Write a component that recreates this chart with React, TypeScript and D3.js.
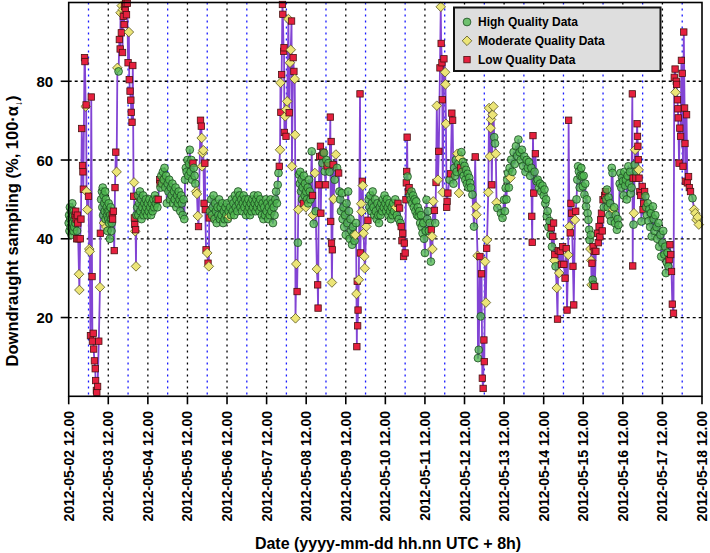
import { useEffect, useRef } from 'react'
import * as d3 from 'd3'

// [days since 2012-05-02 12:00, downdraught sampling %, quality 0 = high, 1 = moderate, 2 = low]
type Pt = [number, number, number]

const START = new Date(2012, 4, 2, 12, 0)
const END = new Date(2012, 4, 18, 12, 0)
const Y_TICKS = [20, 40, 60, 80]
const QUALITY_LABELS = ['High Quality Data', 'Moderate Quality Data', 'Low Quality Data']

const MAY02_04: Pt[] = [
  [0.00,44,0],[0.01,46,0],[0.02,42,0],[0.03,48,0],[0.04,45,0],[0.05,43,0],[0.06,47,0],[0.07,41,0],[0.08,45,0],[0.09,49,0],
  [0.10,44,0],[0.11,46,0],[0.12,42,0],[0.13,47,0],[0.14,43,0],[0.15,45,0],[0.16,46,2],[0.17,44,0],[0.18,47,2],[0.19,45,2],
  [0.20,40,2],[0.21,42,0],[0.22,46,2],[0.23,44,2],[0.24,40,2],[0.26,31,1],[0.27,27,1],[0.29,40,2],[0.31,45,2],[0.33,68,2],
  [0.35,58.6,2],[0.36,57,2],[0.37,52.6,2],[0.40,86,2],[0.41,85,2],[0.43,73.6,1],[0.44,74,2],[0.45,52,1],[0.47,47.4,1],[0.50,50.8,2],
  [0.52,37.4,1],[0.53,36.8,1],[0.55,15.4,2],[0.57,76,2],[0.59,30.4,2],[0.60,14,2],[0.62,16,2],[0.63,12,2],[0.65,9,2],[0.67,7,2],
  [0.68,4,2],[0.70,1.5,2],[0.71,1,2],[0.73,2.5,2],[0.76,14,2],[0.79,27.7,1],[0.80,41.4,2],
  [0.82,50,0],[0.84,52,0],[0.85,48,0],[0.86,53,0],[0.87,46,0],[0.88,51,0],[0.89,44,1],[0.90,49,0],[0.91,47,0],[0.92,52,0],
  [0.93,45,0],[0.94,50,0],[0.95,43,1],[0.96,48,0],[0.97,46,0],[0.98,42,0],[0.99,47,0],[1.00,45,0],[1.01,49,0],[1.02,44,0],
  [1.03,47,0],[1.04,40,0],[1.05,46,0],[1.06,48,0],[1.07,45,0],[1.08,42,0],[1.09,44,0],[1.10,46,2],[1.11,45,2],[1.13,47,2],
  [1.15,37,2],[1.17,53,2],[1.19,62,2],[1.21,57,1],[1.23,83.4,1],
  [1.26,82.5,0],[1.28,90.6,2],[1.30,88.2,2],[1.31,97.4,1],[1.33,92.3,2],[1.34,99.2,1],[1.36,87.3,2],[1.37,98.2,1],[1.38,96.5,2],
  [1.40,94.4,2],[1.41,99,2],[1.43,98,2],[1.44,99.8,2],[1.46,96.9,2],[1.48,99.8,2],[1.50,84.7,2],[1.52,92.5,1],[1.53,80.4,2],
  [1.55,77.5,2],[1.57,75.2,2],[1.58,72.1,2],[1.60,69.6,2],[1.62,84,2],[1.64,50.8,2],
  [1.65,54.3,1],[1.66,45.3,2],[1.67,43.6,2],[1.68,41.9,1],[1.69,42.3,2],[1.70,33,1],[1.71,46,0],
  [1.73,48,0],[1.75,51,0],[1.76,46,0],[1.78,49,0],[1.80,52,0],[1.81,47,0],[1.83,50,0],[1.84,45,0],[1.86,48,0],[1.88,51,0],
  [1.89,46,0],[1.91,49,0],[1.93,47,0],[1.95,50,0],[1.96,48,0],[1.98,46,0],[2.00,49,0],[2.02,47,0],[2.04,50,0],[2.06,48,0],
  [2.08,46,0],[2.10,49,0],[2.12,47,0],[2.14,50,0],[2.16,48,0],[2.18,51,0],[2.20,49,0],[2.22,50,0],[2.24,48,0],[2.26,50,2],
]

const MAY04_07: Pt[] = [
  [2.30,55,2],[2.31,54,2],[2.32,53,0],[2.34,56,0],[2.36,54,0],[2.38,57,0],[2.40,55,0],[2.42,58,0],[2.44,53,0],[2.46,56,0],
  [2.48,49,0],[2.50,54,0],[2.52,52,0],[2.54,55,0],[2.56,50,0],[2.58,53,0],[2.60,51,0],[2.62,54,0],[2.64,49,0],[2.66,52,0],
  [2.68,50,0],[2.70,53,0],[2.72,48,0],[2.74,51,0],[2.76,49,0],[2.78,52,0],[2.80,50,0],[2.82,47,0],[2.84,51,0],[2.86,49,0],
  [2.88,46,0],[2.90,50,0],[2.92,45,0],[2.94,55,0],[2.96,58,0],[2.98,57,0],[3.00,60,0],[3.02,56,0],[3.04,59,0],[3.06,62.6,0],
  [3.08,57,0],[3.10,60,0],[3.12,55,0],[3.14,59.2,2],[3.16,58,0],[3.18,56,0],[3.20,54,0],[3.22,52,1],
  [3.24,51.4,1],[3.26,45.8,1],[3.28,43.1,2],[3.33,70.1,2],[3.35,68.6,2],[3.36,65.6,1],[3.37,58.4,1],[3.38,61.8,1],[3.40,62.5,1],
  [3.42,49,2],[3.44,59.2,2],[3.45,47.4,2],[3.47,37.2,2],[3.50,36.4,1],[3.52,33.8,2],[3.54,33,1],[3.55,45.3,2],[3.57,47,0],
  [3.60,50,0],[3.62,46,0],[3.64,48,0],[3.66,51,0],[3.68,45,0],[3.70,49,0],[3.72,47,0],[3.74,44,0],[3.76,48,0],[3.78,46,0],
  [3.80,50,0],[3.82,45,0],[3.84,48,0],[3.86,46,0],[3.88,49,0],[3.90,44,0],[3.92,47,0],[3.94,45,0],[3.96,48,0],[3.98,46,0],
  [4.00,49,0],[4.02,45,0],[4.04,47,0],[4.06,45.7,1],[4.08,48,0],[4.10,46,0],[4.12,50,0],[4.14,47,0],[4.16,49,0],[4.18,46,0],
  [4.20,51,0],[4.22,48,0],[4.24,50,0],[4.26,47,0],[4.28,52,0],[4.30,49,0],[4.32,51,0],[4.34,48,0],[4.36,50,0],[4.38,47,0],
  [4.40,49,0],[4.42,51,0],[4.44,48,0],[4.46,50,0],[4.48,46,0],[4.50,49,0],[4.52,47,0],[4.54,50,0],[4.56,48,0],[4.58,46,0],
  [4.60,49,0],[4.62,47,0],[4.64,50,0],[4.66,48,0],[4.68,51,0],[4.70,49,0],[4.72,47,0],[4.74,50,0],[4.76,48,0],[4.78,51,0],
  [4.80,49,0],[4.82,47,0],[4.84,50,0],[4.86,48,0],[4.88,46,0],[4.90,49,0],[4.92,45,0],[4.94,48,0],[4.96,46,0],[4.98,50,0],
  [5.00,47,0],[5.02,49,0],[5.04,45,0],[5.06,48,0],[5.08,46,0],[5.10,50,0],[5.12,47,0],[5.14,49,0],[5.16,44,0],[5.18,48,0],
  [5.20,46,0],[5.22,50,0],[5.24,52,0],[5.26,49,0],
]

const MAY07_10: Pt[] = [
  [5.28,53.7,0],[5.30,56.7,0],[5.32,58.4,2],[5.34,62.6,1],[5.35,79.6,1],[5.36,72.1,2],[5.38,81.7,2],[5.40,99.5,2],[5.41,97,2],
  [5.43,87.6,2],[5.44,88.5,2],[5.45,67,2],[5.47,71.1,1],[5.49,66,2],[5.50,72.8,1],[5.52,74.9,1],[5.55,95.8,1],[5.57,72,2],
  [5.59,84.7,1],[5.61,88,1],[5.63,95.3,2],[5.64,58.4,1],[5.67,86,2],[5.69,82.5,2],[5.71,80.6,1],[5.72,66.4,1],[5.73,19.8,1],
  [5.75,33.6,1],[5.77,26.6,2],[5.79,39,0],[5.80,47.4,1],[5.82,56.3,0],
  [5.84,54,0],[5.85,57,0],[5.87,52,0],[5.88,55,0],[5.90,50,0],[5.91,53,0],[5.93,49,2],[5.94,56,0],[5.96,51,0],[5.97,54,0],
  [5.99,48,1],[6.00,52,0],[6.02,50,0],[6.04,53,0],[6.05,49,0],[6.07,55,0],[6.09,52,0],[6.11,50,0],[6.14,62.2,0],[6.16,51,2],
  [6.17,46,1],[6.19,43.8,0],[6.22,56.7,1],[6.24,47,0],[6.27,32.3,1],[6.29,28.3,2],[6.30,22.4,2],
  [6.32,53.7,2],[6.34,60.9,2],[6.36,63.5,2],[6.37,46.5,2],[6.39,61,2],[6.41,59.2,0],[6.43,62,2],[6.45,61.8,0],[6.47,57.1,0],
  [6.49,53.7,2],[6.51,60,0],[6.53,58.5,2],[6.56,59.2,0],[6.59,57,0],[6.61,70.9,2],[6.62,44.4,2],[6.63,64.7,2],[6.64,38.9,2],
  [6.65,28.9,1],[6.66,37.2,2],[6.68,58.8,2],[6.69,50.1,1],[6.72,55,0],[6.75,61.4,1],[6.78,58,0],[6.82,56.7,2],[6.84,52,0],
  [6.86,50,0],[6.88,47,0],[6.90,51.6,0],[6.92,45,0],[6.94,48,0],[6.96,43,0],[6.98,46,0],[7.00,41,0],[7.02,49,0],[7.04,44,0],
  [7.06,52,0],[7.08,47,0],[7.10,40,0],[7.12,45,0],[7.14,42,0],[7.16,38.5,0],[7.18,43,0],[7.20,41,0],[7.22,39.5,0],[7.24,41,1],
  [7.26,44,0],[7.27,26,1],[7.28,12.6,2],[7.29,29.2,2],[7.30,17.9,2],[7.31,21.9,2],[7.33,29.6,1],[7.36,76.8,2],[7.37,36.4,2],
  [7.39,48.9,1],[7.40,46.9,1],[7.42,54.6,2],[7.43,53.5,1],[7.45,41.4,1],[7.47,35.5,1],[7.48,32.5,1],[7.52,43.1,1],[7.56,44.7,2],
  [7.58,50,0],[7.60,48,0],[7.62,51,0],[7.64,47,0],[7.66,49,0],[7.68,52,0],[7.70,48,0],[7.72,46,0],[7.74,50,0],[7.76,47,0],
  [7.78,45,0],[7.80,49,0],[7.82,46,0],[7.84,44,0],[7.86,48,0],[7.88,46,0],[7.90,49,0],[7.92,47,0],[7.94,50,0],[7.96,48,0],
  [7.98,51,0],[8.00,49,0],[8.02,47,0],[8.04,50,0],[8.06,48,0],[8.08,46,0],[8.10,49,0],[8.12,47,0],[8.14,45,0],[8.16,48,0],
  [8.18,46,0],[8.20,49,0],[8.22,47,0],[8.25,50,0],[8.27,48,1],[8.29,46,0],[8.32,49,2],[8.34,45,0],[8.36,47.8,2],[8.38,44,0],
  [8.40,43.1,2],[8.42,39.5,2],[8.44,41.4,2],[8.46,35.5,2],[8.48,38.9,2],[8.50,36.4,2],
  [8.52,49.9,2],[8.53,54.2,2],[8.54,57.1,2],[8.55,65.8,2],[8.56,55.8,0],[8.58,52,2],[8.60,53,2],[8.62,51,0],
]

const MAY10_12: Pt[] = [
  [8.64,50,0],[8.66,52,0],[8.68,49,0],[8.70,51,0],[8.72,48,0],[8.74,50,0],[8.76,47,0],[8.78,49.5,0],[8.80,46,0],[8.82,48,0],
  [8.84,45.7,0],[8.86,47,0],[8.88,44,0],[8.90,46,0],[8.92,43,0],[8.94,41.4,0],[8.96,44,0],[8.98,40,0],[9.00,36.4,0],[9.02,42,0],
  [9.04,49.9,0],[9.06,45,0],[9.08,47,0],[9.10,42,0],[9.12,44,0],[9.15,34.2,0],[9.16,42.3,2],[9.18,40.6,1],[9.19,37.4,1],
  [9.21,49.5,1],[9.24,47.2,2],[9.26,44,0],
  [9.28,54.3,2],[9.30,73.8,1],[9.33,55,1],[9.35,62.2,2],[9.38,83.4,2],[9.40,98.9,1],[9.41,89.6,2],[9.43,84.7,2],[9.44,75.3,2],
  [9.45,51.8,1],[9.48,85.7,2],[9.51,82.3,1],[9.52,79.2,1],[9.53,69.2,1],[9.55,48,2],[9.56,49.5,2],[9.58,51.6,2],[9.62,55,0],
  [9.65,56.5,2],[9.68,71.9,2],[9.70,70.1,2],[9.72,54,0],
  [9.74,58,0],[9.76,56,0],[9.78,60,0],[9.80,57,0],[9.82,61.6,1],[9.84,59,0],[9.86,51.6,1],[9.88,60.5,1],[9.90,58,2],[9.92,62,0],
  [9.94,57,0],[9.96,59.5,0],[9.98,56,0],[10.00,58.5,0],[10.02,55,0],[10.04,57.5,0],[10.06,54,0],[10.08,56.5,0],[10.10,53,0],
  [10.12,55.5,0],[10.14,54.2,0],[10.16,53,0],[10.20,51.2,0],[10.24,43.1,0],[10.27,60.8,2],[10.29,48.2,1],[10.30,46.1,1],
  [10.33,35.7,1],[10.34,9.7,0],[10.36,11.8,0],[10.39,35.5,2],[10.41,20.3,0],[10.43,31.1,2],[10.45,4.6,2],[10.47,2,2],
  [10.49,14.3,2],[10.50,8.8,2],[10.52,34.2,1],[10.54,23.8,1],[10.56,37.6,2],[10.57,39.7,1],
  [10.60,51.8,1],[10.62,73.2,1],[10.64,60.9,1],[10.66,68.1,1],[10.67,70.3,1],[10.69,53.7,2],[10.71,71.5,1],[10.73,73.6,1],
  [10.75,65.8,0],[10.77,64.2,0],[10.79,61.6,1],[10.81,49.2,1],[10.83,47.8,0],
]

const MAY12_15: Pt[] = [
  [10.92,46.5,0],[10.96,45.3,0],[11.00,49.9,0],[11.02,47,0],[11.04,52.9,0],[11.06,50,0],[11.08,55,0],[11.10,56.7,0],[11.12,53,0],
  [11.14,58,0],[11.16,55.5,1],[11.18,60.1,0],[11.21,57,0],[11.24,62,0],[11.27,59,0],[11.30,63.5,0],[11.33,61,0],[11.36,65.2,0],
  [11.39,62,0],[11.42,60,0],[11.45,62.6,0],[11.48,58.5,0],[11.51,60.9,0],[11.54,57,0],[11.57,60,0],
  [11.60,58,0],[11.63,59.5,0],[11.66,56,0],[11.69,58,0],[11.70,45.7,2],[11.71,39.1,2],[11.73,66.2,2],[11.75,51.6,2],[11.77,57,0],
  [11.79,61.6,2],[11.82,54.6,0],[11.85,55,0],[11.88,53,0],[11.91,54,0],[11.94,52,0],[11.97,53.5,0],[12.00,51,0],
  [12.02,52.5,0],[12.04,49,0],[12.06,50,0],[12.08,45.7,0],[12.10,47,0],[12.12,43,0],[12.15,44.5,0],[12.17,41,0],[12.19,42.8,2],
  [12.21,38,0],[12.23,40.6,2],[12.25,44,2],[12.27,34.5,1],[12.28,36,2],[12.30,33,0],[12.33,27.5,1],[12.35,19.6,2],[12.37,37,2],
  [12.39,31.3,1],[12.42,36.8,2],[12.45,33.5,2],[12.48,38,2],[12.51,33.5,2],[12.54,30,2],[12.57,37.5,2],[12.59,21.9,2],
  [12.62,35.9,1],[12.63,70.1,2],[12.65,43.1,1],[12.67,41.5,2],[12.69,49,2],[12.71,46.5,2],[12.74,33,2],[12.76,23.2,2],
  [12.79,44.8,1],[12.81,47,2],[12.83,50,0],[12.85,55,0],[12.87,58.4,0],[12.89,57.1,0],[12.91,53,0],[12.93,56,0],
  [12.95,58,0],[12.97,55.8,0],[12.99,53.3,0],[13.01,56,0],[13.03,51.2,0],[13.05,54,0],[13.07,48.2,0],[13.09,50,0],[13.11,46.5,0],
  [13.13,44.8,0],[13.15,42.3,0],[13.16,39.7,0],[13.18,37.4,1],[13.19,41,0],[13.20,34.5,1],[13.21,28.3,1],[13.22,33.8,2],
  [13.24,29.6,0],[13.25,38,2],[13.26,28.3,0],[13.28,36.8,2],[13.29,27.9,2],[13.32,36.8,2],[13.36,41.4,2],[13.38,39,2],
  [13.40,43.1,2],[13.42,40.5,2],[13.44,44.8,2],[13.46,46.5,2],[13.48,42,2],[13.50,49.9,2],[13.52,48,0],[13.54,51,2],[13.56,52,2],
  [13.58,50,0],[13.60,52.5,0],[13.62,48,0],[13.64,50.5,0],[13.66,46,0],[13.68,49,0],[13.70,44.5,0],[13.72,58,0],[13.74,56.7,0],
  [13.76,47.4,1],[13.78,48,0],[13.80,44,0],[13.82,46,0],[13.85,42.3,0],[13.87,45,0],[13.89,43.5,0],
]

const MAY15_18: Pt[] = [
  [13.92,54,0],[13.94,56.7,0],[13.96,53,0],[13.98,55.5,0],[14.00,54.6,0],[14.02,51,0],[14.04,57,0],[14.06,53.5,0],[14.08,55,0],
  [14.10,50,0],[14.12,56,0],[14.14,58.4,0],[14.16,54,0],[14.18,57,0],[14.20,51.5,0],[14.22,53,0],
  [14.24,76.8,2],[14.25,33.1,2],[14.26,55.4,2],[14.27,43.6,0],[14.28,46.5,1],[14.30,58.8,0],[14.31,62.6,1],[14.33,55.4,2],
  [14.34,57.1,0],[14.36,69.2,2],[14.37,66,2],[14.38,63.5,2],[14.39,60.1,2],[14.40,57.5,1],[14.41,55.4,2],
  [14.43,52,2],[14.45,51,2],[14.47,44.4,0],[14.49,53.3,2],[14.51,47.4,2],[14.53,49,2],[14.55,52,2],[14.57,50.8,0],[14.59,48,0],
  [14.61,46,0],[14.63,49,0],[14.65,44.5,0],[14.67,47.5,0],[14.69,43,0],[14.71,46.5,0],[14.73,40.6,0],
  [14.76,48.2,0],[14.78,45,0],[14.80,42,0],[14.82,46,0],[14.85,43,0],[14.87,40,0],[14.90,44,0],[14.92,38,0],[14.95,41,0],
  [14.97,35.5,0],[15.00,39,0],[15.02,42,0],[15.05,36,0],[15.07,38,0],[15.09,31.3,0],[15.11,34,0],[15.13,36.5,0],[15.15,33,0],
  [15.17,34.7,2],[15.19,38.5,2],[15.21,36,2],[15.23,31.7,2],[15.25,23.4,2],[15.28,21.1,2],
  [15.30,81,2],[15.32,83.1,2],[15.33,77.2,1],[15.35,80,2],[15.36,79.2,2],[15.38,75.3,2],[15.39,73,2],[15.40,70.7,2],[15.42,59.2,2],
  [15.44,68.1,2],[15.46,66,2],[15.48,85.3,2],[15.50,82,2],[15.52,58.4,2],[15.54,92.5,2],[15.56,73.2,2],[15.57,64.2,2],
  [15.58,54.6,2],[15.61,71.5,2],[15.63,54.2,2],[15.66,55.8,2],[15.68,53,2],[15.71,52,2],
  [15.76,50.3,0],[15.80,47.4,1],[15.83,46.5,1],[15.86,44.8,1],[15.89,45.5,1],[15.92,43.6,1],
]

const FONT = '"Liberation Sans", Arial, Helvetica, sans-serif'

interface P { t: Date; v: number; q: number }

export default function App() {
  const svgRef = useRef<SVGSVGElement>(null)

  useEffect(() => {
    if (!svgRef.current) return
    const svg = d3.select(svgRef.current)
    svg.selectAll('*').remove()

    const L = 68.7, R = 702, T = 2.5, B = 396.3

    const x = d3.scaleTime().domain([START, END]).range([L, R])
    const y = d3.scaleLinear().domain([0, 100]).range([B, T])

    const points: P[] = [...MAY02_04, ...MAY04_07, ...MAY07_10, ...MAY10_12, ...MAY12_15, ...MAY15_18]
      .map(([d, v, q]) => ({ t: new Date(START.getTime() + d * 864e5), v, q }))
      .sort((a, b) => +a.t - +b.t)

    const noons = d3.timeDay.range(new Date(2012, 4, 2), new Date(2012, 4, 19)).map(d => d3.timeHour.offset(d, 12))
    const midnights = d3.timeDay.range(new Date(2012, 4, 3), END)

    // grid: blue at midnight, black at noon, dashed horizontals
    const grid = svg.append('g')
    grid.selectAll('line.mid').data(midnights).enter().append('line')
      .attr('x1', d => x(d)).attr('x2', d => x(d)).attr('y1', T).attr('y2', B)
      .attr('stroke', '#1a1aff').attr('stroke-width', 1.3).attr('stroke-dasharray', '2,4')
    grid.selectAll('line.noon').data(noons.slice(1, -1)).enter().append('line')
      .attr('x1', d => x(d)).attr('x2', d => x(d)).attr('y1', T).attr('y2', B)
      .attr('stroke', '#000').attr('stroke-width', 1.3).attr('stroke-dasharray', '2,4')
    grid.selectAll('line.h').data(Y_TICKS).enter().append('line')
      .attr('x1', L).attr('x2', R).attr('y1', d => y(d)).attr('y2', d => y(d))
      .attr('stroke', '#000').attr('stroke-width', 1.3).attr('stroke-dasharray', '3,3')

    // connecting line
    const line = d3.line<P>().x(p => x(p.t)).y(p => y(p.v))
    svg.append('path').datum(points)
      .attr('d', line)
      .attr('fill', 'none')
      .attr('stroke', '#8244d4')
      .attr('stroke-width', 1.8)
      .attr('stroke-linejoin', 'round')

    // markers
    const mk = svg.append('g')
    const drawMarker = (sel: any, q: number, cx: number, cy: number) => {
      if (q === 0) {
        sel.append('circle').attr('cx', cx).attr('cy', cy).attr('r', 3.9)
          .attr('fill', '#4fb94f').attr('fill-opacity', 0.78)
          .attr('stroke', '#1d4d22').attr('stroke-width', 0.8)
      } else if (q === 1) {
        const r = 4.8
        sel.append('path')
          .attr('d', `M${cx},${cy - r}L${cx + r},${cy}L${cx},${cy + r}L${cx - r},${cy}Z`)
          .attr('fill', '#ece577').attr('stroke', '#5b5720').attr('stroke-width', 0.8)
      } else {
        const s = 6.4
        sel.append('rect').attr('x', cx - s / 2).attr('y', cy - s / 2).attr('width', s).attr('height', s)
          .attr('fill', '#e6203e').attr('stroke', '#4a1212').attr('stroke-width', 0.8)
      }
    }
    points.forEach(p => drawMarker(mk, p.q, x(p.t), y(p.v)))

    // frame
    svg.append('rect').attr('x', L).attr('y', T).attr('width', R - L).attr('height', B - T)
      .attr('fill', 'none').attr('stroke', '#000').attr('stroke-width', 1.6)

    // y ticks + labels
    const yt = svg.append('g')
    Y_TICKS.forEach(v => {
      yt.append('line').attr('x1', L - 8).attr('x2', L).attr('y1', y(v)).attr('y2', y(v))
        .attr('stroke', '#000').attr('stroke-width', 1.6)
      yt.append('text').attr('x', L - 15.5).attr('y', y(v)).attr('text-anchor', 'end')
        .attr('dominant-baseline', 'central')
        .attr('font-family', FONT).attr('font-weight', 'bold').attr('font-size', 15)
        .text(v)
    })

    // x ticks + labels
    const fmt = d3.timeFormat('%Y-%m-%d %H.%M')
    const xt = svg.append('g')
    noons.forEach(d => {
      xt.append('line').attr('x1', x(d)).attr('x2', x(d)).attr('y1', B).attr('y2', B + 8)
        .attr('stroke', '#000').attr('stroke-width', 1.6)
      xt.append('text').attr('transform', `translate(${x(d)},${411}) rotate(-90)`)
        .attr('text-anchor', 'end').attr('dominant-baseline', 'central')
        .attr('font-family', FONT).attr('font-weight', 'bold').attr('font-size', 14)
        .text(fmt(d))
    })

    // axis titles
    svg.append('text').attr('x', 388).attr('y', 549).attr('text-anchor', 'middle')
      .attr('font-family', FONT).attr('font-weight', 'bold').attr('font-size', 16)
      .text('Date (yyyy-mm-dd hh.nn UTC + 8h)')

    const yl = svg.append('text').attr('transform', 'translate(18,231) rotate(-90)')
      .attr('text-anchor', 'middle')
      .attr('font-family', FONT).attr('font-weight', 'bold').attr('font-size', 16.5)
    yl.append('tspan').text('Downdraught sampling (%, 100·α')
    yl.append('tspan').attr('font-size', 10).attr('dy', 4).text('↓')
    yl.append('tspan').attr('dy', -4).text(')')

    // legend
    const lg = svg.append('g')
    lg.append('rect').attr('x', 454).attr('y', 7.5).attr('width', 206.5).attr('height', 63.5)
      .attr('fill', '#dedede').attr('stroke', '#111').attr('stroke-width', 2)
    QUALITY_LABELS.forEach((lab, i) => {
      const cy = 22 + i * 18.8
      drawMarker(lg, i, 467, cy)
      lg.append('text').attr('x', 478).attr('y', cy).attr('dominant-baseline', 'central')
        .attr('font-family', FONT).attr('font-weight', 'bold').attr('font-size', 12)
        .text(lab)
    })

    return () => { svg.selectAll('*').remove() }
  }, [])

  return (
    <div style={{ position: 'fixed', left: 0, top: 0 }}>
      <svg ref={svgRef} width={710} height={553} style={{ display: 'block', background: '#fff' }} />
    </div>
  )
}
